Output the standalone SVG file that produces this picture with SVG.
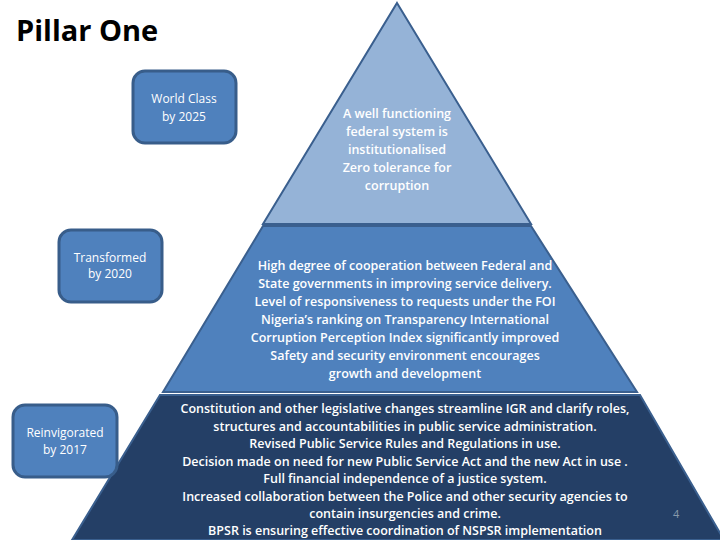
<svg xmlns="http://www.w3.org/2000/svg" width="720" height="540" viewBox="0 0 720 540">
<style>
.t{font-family:"Open Sans","Liberation Sans",sans-serif;font-size:12.5px;font-weight:600;fill:#fff;text-anchor:middle}
.b{fill:#4F81BD;stroke:#385D8A;stroke-width:3}
.bt{font-family:"Open Sans","Liberation Sans",sans-serif;font-size:12px;fill:#fff;text-anchor:middle}
</style>
<rect width="720" height="540" fill="#fff"/>
<text x="16" y="41" font-family="Open Sans,Liberation Sans,sans-serif" font-size="29" font-weight="bold" fill="#000">Pillar One</text>
<g id="tier3">
<polygon points="160,395 640,395 724,540 72,540" fill="#243F66" stroke="#3A5F8E" stroke-width="2"/>
<text class="t" x="405" y="413">Constitution and other legislative changes streamline IGR and clarify roles,</text>
<text class="t" x="405" y="430.5">structures and accountabilities in public service administration.</text>
<text class="t" x="405" y="448">Revised Public Service Rules and Regulations  in use.</text>
<text class="t" x="405" y="465.5">Decision made on need for new Public Service Act and the new Act in use .</text>
<text class="t" x="405" y="483">Full financial independence of a justice system.</text>
<text class="t" x="405" y="500.5">Increased collaboration between the Police and other security agencies to</text>
<text class="t" x="405" y="518">contain insurgencies and crime.</text>
<text class="t" x="405" y="535">BPSR is ensuring effective coordination of NSPSR implementation</text>
</g>
<g id="tier2">
<polygon points="263,226 531,226 637,392 163,392" fill="#4F81BD" stroke="#3A5F8E" stroke-width="2"/>
<text class="t" x="405" y="270">High degree of cooperation between Federal and</text>
<text class="t" x="405" y="288">State governments in improving service delivery.</text>
<text class="t" x="405" y="306">Level of responsiveness to requests under the FOI</text>
<text class="t" x="405" y="324">Nigeria’s ranking on Transparency International</text>
<text class="t" x="405" y="342">Corruption Perception Index significantly improved</text>
<text class="t" x="405" y="360">Safety and security environment encourages</text>
<text class="t" x="405" y="378">growth and development</text>
</g>
<g id="tier1">
<polygon points="397,3 531,224 263,224" fill="#95B3D7" stroke="#3A5F8E" stroke-width="2"/>
<text class="t" x="397" y="118">A well functioning</text>
<text class="t" x="397" y="136">federal system is</text>
<text class="t" x="397" y="154">institutionalised</text>
<text class="t" x="397" y="172">Zero tolerance for</text>
<text class="t" x="397" y="190">corruption</text>
</g>
<g id="box2025">
<rect class="b" x="133" y="71" width="103" height="72" rx="12"/>
<text class="bt" x="184" y="103">World Class</text>
<text class="bt" x="184" y="121">by 2025</text>
</g>
<g id="box2020">
<rect class="b" x="59" y="230" width="103" height="72" rx="12"/>
<text class="bt" x="110" y="262">Transformed</text>
<text class="bt" x="110" y="278">by 2020</text>
</g>
<g id="box2017">
<rect class="b" x="13" y="405" width="104" height="72" rx="12"/>
<text class="bt" x="65" y="437">Reinvigorated</text>
<text class="bt" x="65" y="454">by 2017</text>
</g>
<text x="673" y="518" font-family="Open Sans,Liberation Sans,sans-serif" font-size="11" fill="#8899AA">4</text>
<g id="connectors"/>
</svg>
